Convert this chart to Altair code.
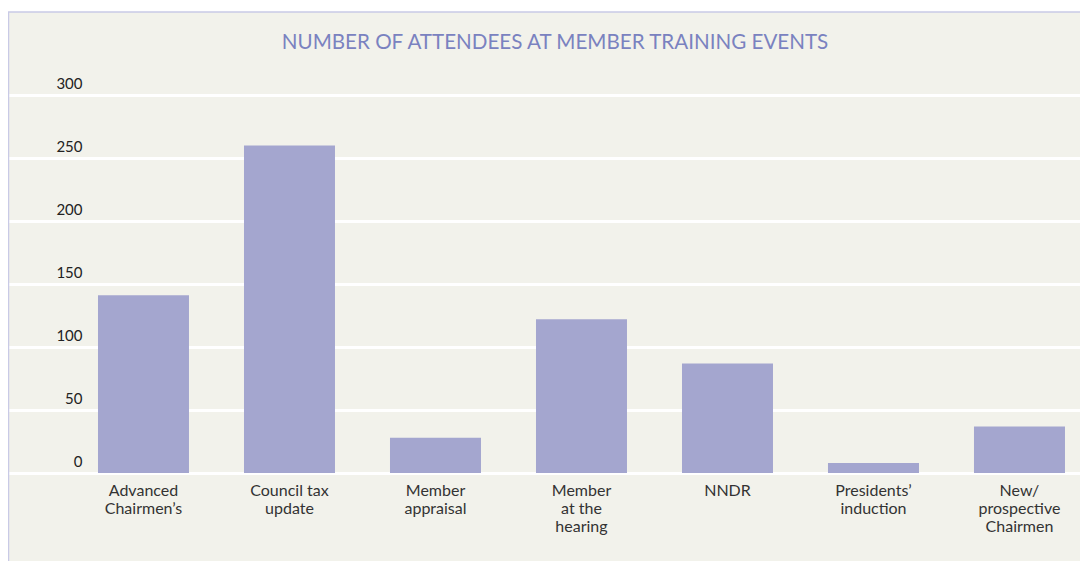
import altair as alt
import pandas as pd

categories = [
    "Advanced|Chairmen’s",
    "Council tax|update",
    "Member|appraisal",
    "Member|at the|hearing",
    "NNDR",
    "Presidents’|induction",
    "New/|prospective|Chairmen",
]
attendees = [141, 260, 28, 122, 87, 8, 37]
y_ticks = [0, 50, 100, 150, 200, 250, 300]
title_text = ["NUMBER OF ATTENDEES AT MEMBER TRAINING EVENTS"]

df = pd.DataFrame({"event": categories, "attendees": attendees})
tdf = pd.DataFrame({"t": title_text})
one = pd.DataFrame({"a": [0]})

W, H = 1072, 378
PAD_TOP, PAD_BOTTOM = 87, 88
FONT = "Lato"
BORDER = "#c9cae6"

bars = alt.Chart(df).mark_bar(color="#a4a6cf").encode(
    x=alt.X(
        "event:N",
        sort=categories,
        scale=alt.Scale(paddingInner=0.3767, paddingOuter=0.3596, align=0.857),
        axis=alt.Axis(
            title=None,
            labelAngle=0,
            ticks=False,
            domain=False,
            labelPadding=9,
            labelBaseline="top",
            labelFont=FONT,
            labelFontSize=16,
            labelLineHeight=18,
            labelColor="#333333",
            labelExpr="split(datum.label, '|')",
        ),
    ),
    y=alt.Y(
        "attendees:Q",
        scale=alt.Scale(domain=[0, 300], nice=False),
        axis=alt.Axis(
            title=None,
            values=y_ticks,
            ticks=False,
            domain=False,
            grid=True,
            gridColor="white",
            gridWidth=3,
            labelAlign="right",
            labelBaseline="alphabetic",
            labelPadding=-74,
            labelOffset=-7,
            labelFont=FONT,
            labelFontSize=15,
            labelColor="#222222",
        ),
    ),
)

title = alt.Chart(tdf).mark_text(
    font=FONT, fontSize=20.6, color="#7a82c0", align="center", baseline="alphabetic"
).encode(text="t:N", x=alt.value(547), y=alt.value(-46))

white_band = alt.Chart(one).mark_rect(color="white").encode(
    x=alt.value(-1), x2=alt.value(W + 1), y=alt.value(-PAD_TOP - 1), y2=alt.value(-83)
)
top_line = alt.Chart(one).mark_rule(color=BORDER, strokeWidth=1.5).encode(
    x=alt.value(0), x2=alt.value(W), y=alt.value(-83)
)
left_line = alt.Chart(one).mark_rule(color=BORDER, strokeWidth=1.5).encode(
    x=alt.value(0.5), y=alt.value(-83), y2=alt.value(H + PAD_BOTTOM)
)

chart = alt.layer(bars, title, white_band, top_line, left_line).properties(
    width=W,
    height=H,
    autosize=alt.AutoSizeParams(type="none"),
    padding={"left": 0, "right": 0, "top": PAD_TOP, "bottom": PAD_BOTTOM},
    background="#f2f2eb",
).configure_view(stroke=None)

chart.save("out.html", embed_options={"renderer": "svg", "actions": False})
